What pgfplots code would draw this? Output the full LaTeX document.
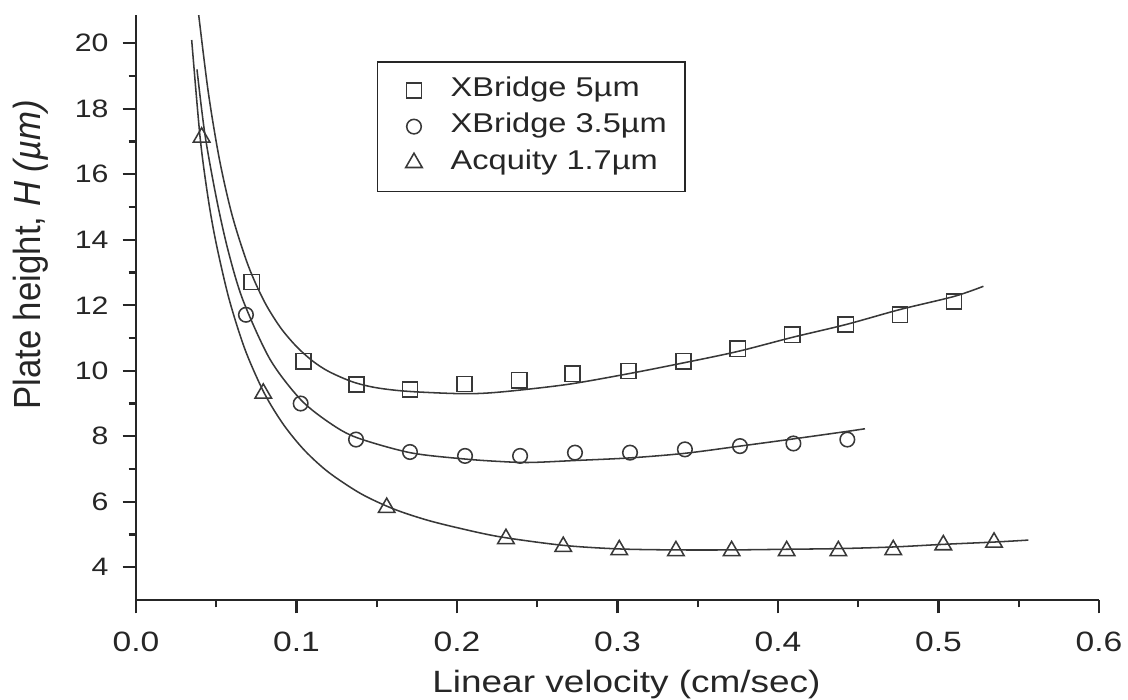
\documentclass[border=0pt]{standalone}
\usepackage{fontspec}
\setmainfont{Liberation Sans}[FakeStretch=1.2]
\newfontfamily\ylabfont{Liberation Sans}[FakeStretch=0.92]
\usepackage{pgfplots}
\pgfplotsset{compat=1.18}
\definecolor{ink}{HTML}{262626}
\definecolor{curve}{HTML}{383838}

\begin{document}
\begin{tikzpicture}
\begin{axis}[
  name=ax, scale only axis, width=343.93pt, height=208.9pt,
  xmin=0, xmax=0.6, ymin=3, ymax=20.86,
  axis lines=left, axis line style={-, line width=0.9pt, ink},
  xtick={0,0.1,0.2,0.3,0.4,0.5,0.6}, ytick={4,6,8,10,12,14,16,18,20},
  minor x tick num=1, minor y tick num=1,
  tick align=outside, major tick length=4.8pt, minor tick length=2.6pt,
  tick style={ink, line width=0.8pt},
  /pgf/number format/assume math mode=true,
  xticklabel style={font=\fontsize{10}{12}\selectfont, text=ink, yshift=-3pt,
     /pgf/number format/.cd, fixed, fixed zerofill, precision=1},
  yticklabel style={font=\fontsize{9}{11}\selectfont, text=ink, xshift=-1.5pt},
  xlabel={Linear velocity (cm/sec)},
  xlabel style={font=\fontsize{11}{13}\selectfont, text=ink, at={(axis description cs:0.5093,-0.1589)}, anchor=base},
  ylabel={Plate height, \textit{H (µm)}},
  ylabel style={font=\ylabfont\fontsize{13.5}{15}\selectfont, text=ink, at={(axis description cs:-0.0989,0.59)}, anchor=base, rotate=0},
  legend cell align=left,
  legend image code/.code={\path (0pt,0pt) (19pt,0pt); \draw[#1] plot coordinates {(7.7pt,0pt)};},
  legend style={at={(axis cs:0.150,19.46)}, anchor=north west, draw=ink, line width=0.6pt,
     inner xsep=5pt, inner ysep=4pt, row sep=0.4pt, font=\fontsize{9.7}{11}\selectfont, text=ink,
     nodes={inner sep=1.5pt, text height=7pt, text depth=2.5pt}},
]
% data points
\addplot[only marks, mark=square, mark size=2.7pt, mark options={draw=curve, line width=0.55pt}] coordinates {
(0.0721,12.71) (0.1043,10.29) (0.1375,9.58) (0.1707,9.43) (0.2046,9.60) (0.2388,9.71)
(0.272,9.91) (0.3068,9.99) (0.341,10.29) (0.3749,10.67) (0.4089,11.10) (0.4422,11.41)
(0.476,11.71) (0.5097,12.12)};
\addlegendentry{XBridge 5µm}
\addplot[only marks, mark=o, mark size=2.6pt, mark options={draw=curve, line width=0.55pt}] coordinates {
(0.0685,11.71) (0.1026,9.00) (0.1371,7.90) (0.1707,7.52) (0.205,7.40) (0.2393,7.40)
(0.2735,7.50) (0.3078,7.50) (0.342,7.60) (0.3763,7.70) (0.4096,7.78) (0.4432,7.90)};
\addlegendentry{XBridge 3.5µm}
\addplot[only marks, mark=triangle, mark size=3.4pt, mark options={draw=curve, line width=0.55pt}] coordinates {
(0.0409,17.13) (0.0793,9.31) (0.1562,5.82) (0.2305,4.87) (0.2662,4.63) (0.3011,4.53)
(0.3364,4.50) (0.3711,4.50) (0.4054,4.50) (0.4376,4.50) (0.4718,4.53) (0.503,4.68) (0.5346,4.76)};
\addlegendentry{Acquity 1.7µm}
% fitted curves
\addplot[curve, line width=0.55pt, smooth, tension=0.5, forget plot] coordinates {
(0.0385,21.1) (0.045,18.52) (0.052,16.45) (0.06,14.73) (0.07,13.2) (0.08,12.11)
(0.09,11.32) (0.1,10.74) (0.11,10.30) (0.12,9.98) (0.135,9.66) (0.15,9.48)
(0.17,9.37) (0.2039,9.30) (0.2268,9.35)
(0.2683,9.58) (0.3068,9.91) (0.341,10.24) (0.3749,10.59) (0.4089,11.02) (0.4422,11.41)
(0.476,11.87) (0.5097,12.27) (0.528,12.58)};
\addplot[curve, line width=0.55pt, smooth, tension=0.5, forget plot] coordinates {
(0.038,19.2) (0.043,17.2) (0.0503,15.22) (0.0575,13.65) (0.0667,12.15) (0.0835,10.35)
(0.1026,9.12) (0.1209,8.40) (0.1375,7.96) (0.1707,7.50) (0.2039,7.31) (0.2268,7.23)
(0.2455,7.20) (0.2735,7.26) (0.3078,7.34) (0.342,7.48) (0.3763,7.70) (0.4096,7.92)
(0.4432,8.15) (0.4542,8.23)};
\addplot[curve, line width=0.55pt, smooth, tension=0.5, forget plot] coordinates {
(0.0347,20.1) (0.040,17.1) (0.045,15.25) (0.05,13.88) (0.058,12.19) (0.068,10.64)
(0.08,9.31) (0.092,8.35) (0.105,7.57) (0.12,6.90) (0.14,6.25) (0.16,5.79) (0.18,5.46)
(0.2,5.21) (0.2268,4.93) (0.2662,4.67)
(0.3011,4.56) (0.3364,4.53) (0.3711,4.53) (0.4054,4.55) (0.4376,4.57) (0.4718,4.62)
(0.503,4.70) (0.5346,4.77) (0.556,4.83)};
\end{axis}
\pgfresetboundingbox
\path ([xshift=-48.57pt,yshift=-35.7pt]ax.south west) rectangle ([xshift=10.36pt,yshift=5.4pt]ax.north east);
\end{tikzpicture}
\end{document}
